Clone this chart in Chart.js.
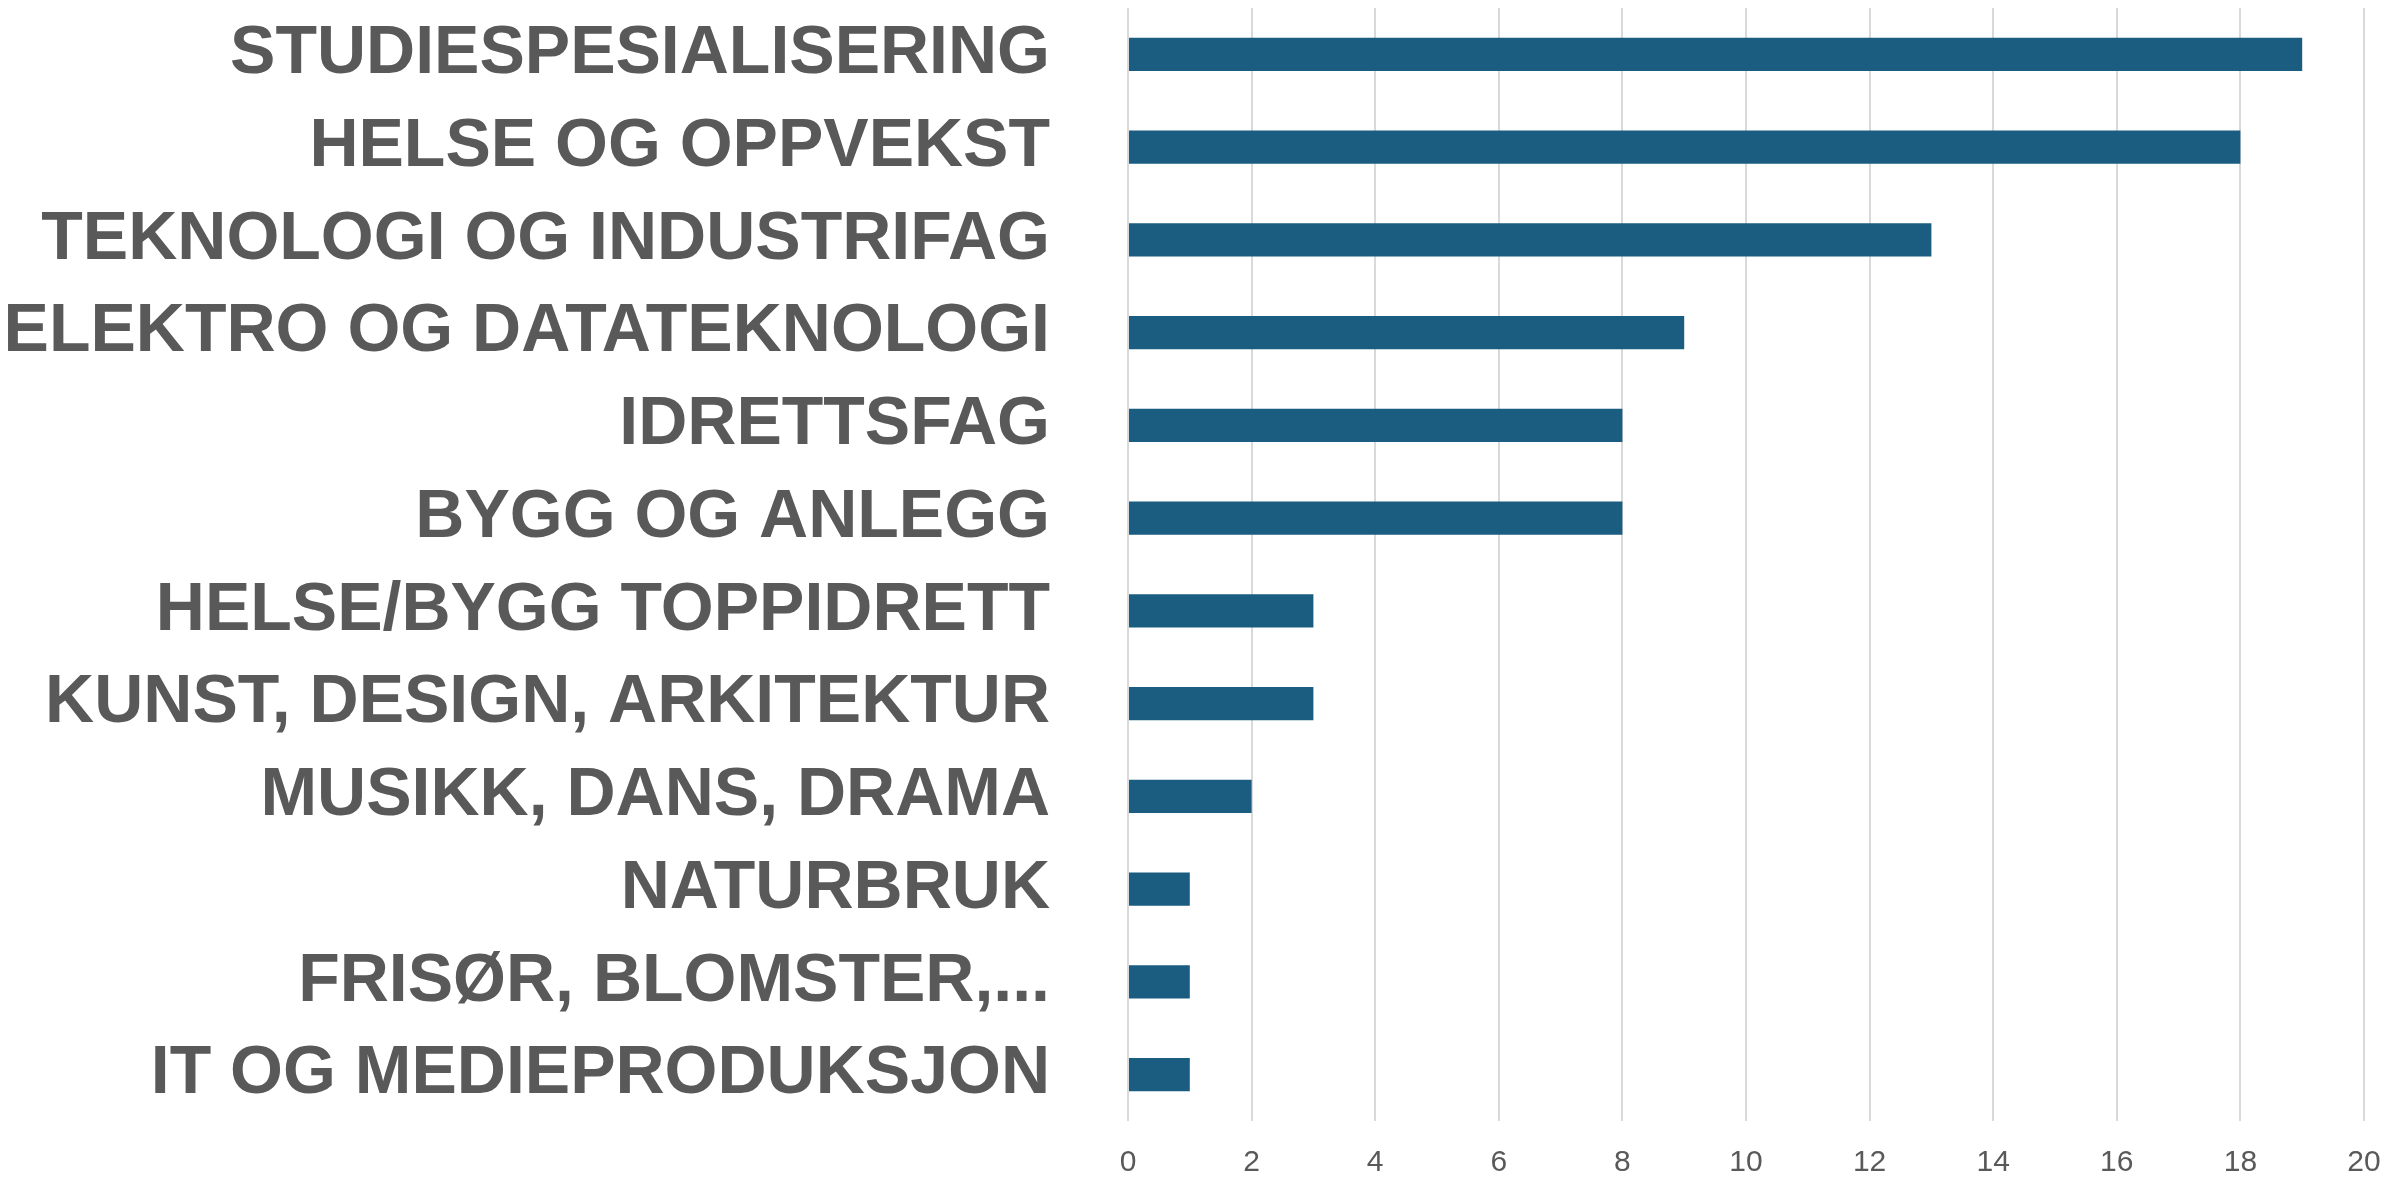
<!DOCTYPE html>
<html>
<head>
<meta charset="utf-8">
<script src="https://cdn.jsdelivr.net/npm/chart.js@4/dist/chart.umd.min.js"></script>
<style>
  html, body { margin: 0; padding: 0; background: #ffffff; }
  #wrap { width: 2392px; height: 1179px; position: relative; }
</style>
</head>
<body>
<div id="wrap"><canvas id="chart"></canvas></div>
<script>
// categories, top to bottom
const categories = [
    'STUDIESPESIALISERING',
    'HELSE OG OPPVEKST',
    'TEKNOLOGI OG INDUSTRIFAG',
    'ELEKTRO OG DATATEKNOLOGI',
    'IDRETTSFAG',
    'BYGG OG ANLEGG',
    'HELSE/BYGG TOPPIDRETT',
    'KUNST, DESIGN, ARKITEKTUR',
    'MUSIKK, DANS, DRAMA',
    'NATURBRUK',
    'FRISØR, BLOMSTER,...',
    'IT OG MEDIEPRODUKSJON'
];
const counts = [19, 18, 13, 9, 8, 8, 3, 3, 2, 1, 1, 1];
const xTicks = [0, 2, 4, 6, 8, 10, 12, 14, 16, 18, 20];

const textColor = '#595959';
const barColor = '#1a5d80';

new Chart(document.getElementById('chart'), {
    type: 'bar',
    data: {
        labels: categories,
        datasets: [{
            data: counts,
            backgroundColor: barColor,
            borderWidth: 0,
            categoryPercentage: 1.0,
            barPercentage: 0.36,
        }]
    },
    options: {
        indexAxis: 'y',
        responsive: true,
        maintainAspectRatio: false,
        animation: false,
        layout: {
            padding: {top: 8, right: 28, bottom: 0, left: 0}
        },
        plugins: {
            legend: {display: false},
            tooltip: {enabled: false},
        },
        scales: {
            x: {
                min: 0,
                max: 20,
                afterBuildTicks: (axis) => {
                    axis.ticks = xTicks.map(v => ({value: v}));
                },
                grid: {
                    color: '#d9d9d9',
                    lineWidth: 2,
                    drawTicks: false,
                },
                border: {display: false},
                ticks: {
                    color: textColor,
                    font: {family: 'Liberation Sans Narrow, Liberation Sans, sans-serif', size: 30},
                    padding: 24,
                    maxRotation: 0,
                },
                afterFit: (axis) => {
                    axis.height = 58;
                    axis.paddingLeft = 0;
                    axis.paddingRight = 0;
                },
            },
            y: {
                grid: {display: false, drawTicks: false},
                border: {display: false},
                ticks: {
                    color: textColor,
                    font: {family: 'Liberation Sans, Arial, sans-serif', size: 68, weight: 'bold'},
                    padding: 78,
                    autoSkip: false,
                },
                afterFit: (axis) => {
                    axis.width = 1128;
                    axis.paddingTop = 0;
                    axis.paddingBottom = 0;
                },
            }
        }
    }
});
</script>
</body>
</html>
